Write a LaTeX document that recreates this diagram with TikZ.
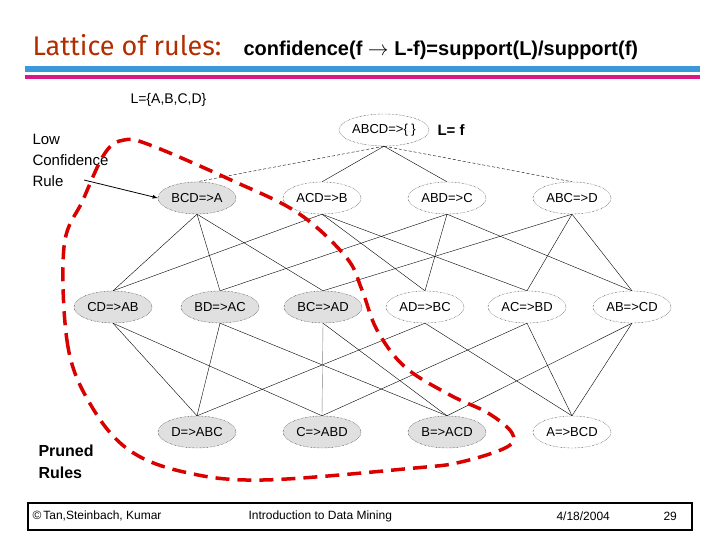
\documentclass[tikz,border=0pt]{standalone}
\usepackage{fontspec}
\setmainfont{Liberation Sans}
\newfontfamily\ttl{Fira Sans}
\usetikzlibrary{shapes.geometric}
\begin{document}
\begin{tikzpicture}[x=1pt,y=-1pt,
 rule/.style={ellipse,draw,densely dotted,minimum width=78pt,minimum height=32pt,inner sep=0pt,font=\fontsize{13}{13}\selectfont},
 pr/.style={rule,fill=black!12},
 ed/.style={line width=0.4pt}]
\useasboundingbox (0,0) rectangle (720,540);
\fill[cyan!70!blue!80] (25,66) rectangle (700,72);
\fill[magenta!80!violet] (25,75) rectangle (700,79);
\node[anchor=base west,font=\ttl\fontsize{27}{27}\selectfont,text=orange!50!red!70!black] (t1) at (29,56) {Lattice of rules:};
\node[anchor=base west,font=\bfseries\fontsize{20}{20}\selectfont] (t2) at (240,56) {confidence(f $\rightarrow$ L-f)=support(L)/support(f)};
\node[anchor=base west,font=\fontsize{14}{14}\selectfont] (lset) at (127,104) {L=\{A,B,C,D\}};
\node[rule] (top) at (384,130) {ABCD=>\{ \}};
\node[anchor=west,font=\bfseries\fontsize{15}{15}\selectfont] (lf) at (434,130) {L= f};
\node[pr] (BCD) at (197,198) {BCD=>A};
\node[rule] (ACD) at (322,198) {ACD=>B};
\node[rule] (ABD) at (447,198) {ABD=>C};
\node[rule] (ABC) at (572,198) {ABC=>D};
\node[pr] (CD) at (113,307) {CD=>AB};
\node[pr] (BD) at (220,307) {BD=>AC};
\node[pr] (BC) at (323,307) {BC=>AD};
\node[rule] (AD) at (425,307) {AD=>BC};
\node[rule] (AC) at (527,307) {AC=>BD};
\node[rule] (AB) at (632,307) {AB=>CD};
\node[pr] (D) at (197,432) {D=>ABC};
\node[pr] (C) at (322,432) {C=>ABD};
\node[pr] (B) at (447,432) {B=>ACD};
\node[rule] (A) at (572,432) {A=>BCD};
\draw[ed,densely dashed] (top.south) -- (BCD.north);
\draw[ed,densely dashed] (top.south) -- (ABC.north);
\draw[ed] (top.south) -- (ACD.north);
\draw[ed] (top.south) -- (ABD.north);
\foreach \a/\b in {BCD/CD,BCD/BD,BCD/BC,ACD/CD,ACD/AD,ACD/AC,ABD/BD,ABD/AD,ABD/AB,ABC/BC,ABC/AC,ABC/AB}
 \draw[ed] (\a.south) -- (\b.north);
\foreach \a/\b in {CD/D,CD/C,BD/D,BD/B,BC/B,AD/D,AD/A,AC/C,AC/A,AB/B,AB/A}
 \draw[ed] (\a.south) -- (\b.north);
\draw[ed,gray] (BC.south) -- (C.north);
\node[anchor=north west,align=left,font=\fontsize{15}{21}\selectfont] (low) at (29,131) {Low\\Confidence\\Rule};
\coordinate (la) at (84,180);
\draw[thick,-latex] (la) -- (BCD.west);
\node[anchor=north west,align=left,font=\bfseries\fontsize{16}{22}\selectfont] (pru) at (35,441) {Pruned\\Rules};
\draw[red!85!black,line width=3.5pt,dash pattern=on 14pt off 8pt] plot[smooth cycle,tension=0.6] coordinates {(92,407) (68,347) (64,247) (83,200) (105,153) (124,140) (150,145) (231,180) (298,213) (346,257) (362,290) (377,330) (405,367) (450,395) (488,413) (512,433) (507,447) (461,462) (415,468) (263,480) (184,472) (129,450)};
\draw[line width=1.6pt] (28,503) rectangle (692,530);
\node[anchor=west,font=\fontsize{12}{12}\selectfont] (f1) at (29,516) {\textcopyright\,Tan,Steinbach, Kumar};
\node[anchor=west,font=\fontsize{12}{12}\selectfont] (f2) at (245,516) {Introduction to Data Mining};
\node[anchor=west,font=\fontsize{12}{12}\selectfont] (f3) at (553,516) {4/18/2004};
\node[anchor=west,font=\fontsize{12}{12}\selectfont] (f4) at (660,516) {29};
\end{tikzpicture}
\end{document}
